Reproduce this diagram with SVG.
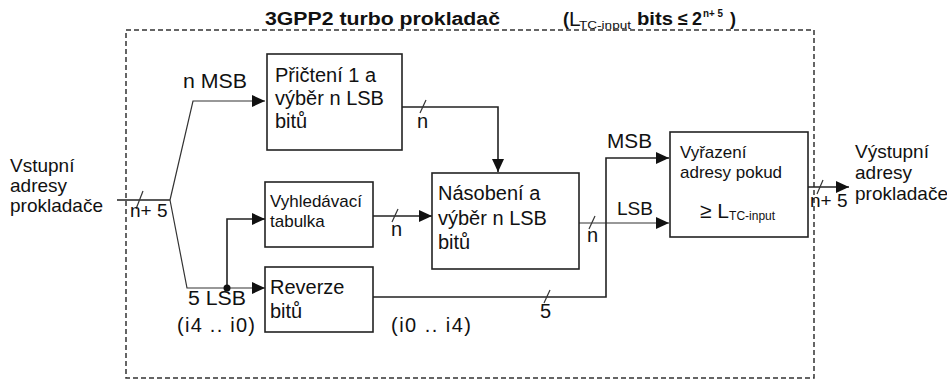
<svg xmlns="http://www.w3.org/2000/svg" width="947" height="383" viewBox="0 0 947 383">
<style>
  text { font-family: "Liberation Sans", Arial, sans-serif; fill: #111; }
  .box { fill: #fff; stroke: #222; stroke-width: 1.6; }
  .ln { fill: none; stroke: #222; stroke-width: 1.6; }
  .thin { fill: none; stroke: #333; stroke-width: 1.2; }
  .frame { fill: none; stroke: #333; stroke-width: 1.5; stroke-dasharray: 5 3; }
  .t20 { font-size: 20px; }
  .t19 { font-size: 19px; }
  .t17 { font-size: 17px; }
  .bold { font-weight: bold; font-size: 18px; }
</style>
<defs>
  <marker id="arr" markerWidth="14" markerHeight="12" refX="13" refY="6" orient="auto" markerUnits="userSpaceOnUse">
    <path d="M0,0 L13,6 L0,12 Z" fill="#111"/>
  </marker>
</defs>
<rect width="947" height="383" fill="#fff"/>

<g id="frame">
  <rect class="frame" x="126" y="30" width="688" height="348"/>
  <text class="bold" x="265" y="25" textLength="235" lengthAdjust="spacingAndGlyphs">3GPP2 turbo prokladač</text>
  <text class="bold" x="563" y="25">(</text>
  <text x="569" y="26" font-size="21">L</text>
  <text x="579" y="29" font-size="11" textLength="52" lengthAdjust="spacingAndGlyphs">TC-input</text>
  <text class="bold" x="637" y="25" textLength="36" lengthAdjust="spacingAndGlyphs">bits</text>
  <text class="bold" x="678" y="25">≤</text>
  <text class="bold" x="692" y="25">2</text>
  <text x="703" y="17" font-size="10" font-weight="bold" textLength="20" lengthAdjust="spacingAndGlyphs">n+ 5</text>
  <text class="bold" x="730" y="25">)</text>
</g>

<g id="connectors">
  <polyline class="ln" points="117,200 170,200"/>
  <line class="thin" x1="136" y1="209" x2="143" y2="191"/>
  <polyline class="thin" points="170,200 193,101 265,101" marker-end="url(#arr)"/>
  <polyline class="thin" points="170,200 187,288 265,288" marker-end="url(#arr)"/>
  <polyline class="ln" points="227,288 227,219 265,219" marker-end="url(#arr)"/>
  <circle cx="227" cy="288" r="3.5" fill="#111"/>
  <polyline class="ln" points="402,107 498,107 498,172" marker-end="url(#arr)"/>
  <line class="thin" x1="420" y1="113" x2="426" y2="100"/>
  <polyline class="ln" points="373,216 432,216" marker-end="url(#arr)"/>
  <line class="thin" x1="392" y1="222" x2="398" y2="209"/>
  <polyline class="thin" points="579,223 669,223" marker-end="url(#arr)"/>
  <line class="thin" x1="589" y1="229" x2="595" y2="216"/>
  <polyline class="ln" points="373,297 606,297 606,158 669,158" marker-end="url(#arr)"/>
  <line class="thin" x1="544" y1="303" x2="550" y2="290"/>
  <polyline class="ln" points="808,187 849,187" marker-end="url(#arr)"/>
  <line class="thin" x1="817" y1="194" x2="823" y2="180"/>
</g>

<g id="input-label">
  <text class="t19" x="10" y="172">Vstupní</text>
  <text class="t19" x="10" y="192">adresy</text>
  <text class="t19" x="10" y="212">prokladače</text>
  <text class="t19" x="130" y="217">n+ 5</text>
</g>

<g id="labels">
  <text class="t20" x="183" y="88" textLength="64" lengthAdjust="spacingAndGlyphs">n MSB</text>
  <text class="t20" x="188" y="305" textLength="58" lengthAdjust="spacingAndGlyphs">5 LSB</text>
  <text class="t20" x="177" y="332" textLength="78" lengthAdjust="spacing">(i4 .. i0)</text>
  <text class="t20" x="417" y="128">n</text>
  <text class="t20" x="391" y="236">n</text>
  <text class="t20" x="587" y="242">n</text>
  <text class="t19" x="617" y="215" textLength="36" lengthAdjust="spacingAndGlyphs">LSB</text>
  <text class="t20" x="607" y="148" textLength="45" lengthAdjust="spacingAndGlyphs">MSB</text>
  <text class="t20" x="540" y="318">5</text>
  <text class="t20" x="391" y="332" textLength="80" lengthAdjust="spacing">(i0 .. i4)</text>
  <text class="t19" x="810" y="207">n+ 5</text>
</g>

<g id="box-pricteni">
  <rect class="box" x="267" y="54" width="135" height="96"/>
  <text class="t20" x="275" y="82">Přičtení 1 a</text>
  <text class="t20" x="275" y="105">výběr n LSB</text>
  <text class="t20" x="275" y="128">bitů</text>
</g>

<g id="box-vyhledavaci">
  <rect class="box" x="265" y="182" width="108" height="65"/>
  <text class="t17" x="270" y="207">Vyhledávací</text>
  <text class="t17" x="270" y="227">tabulka</text>
</g>

<g id="box-reverze">
  <rect class="box" x="265" y="267" width="108" height="65"/>
  <text class="t20" x="270" y="294">Reverze</text>
  <text class="t20" x="270" y="318">bitů</text>
</g>

<g id="box-nasobeni">
  <rect class="box" x="432" y="173" width="147" height="96"/>
  <text class="t20" x="438" y="200">Násobení a</text>
  <text class="t20" x="438" y="225">výběr n LSB</text>
  <text class="t20" x="438" y="249">bitů</text>
</g>

<g id="box-vyrazeni">
  <rect class="box" x="670" y="132" width="138" height="105"/>
  <text class="t17" x="680" y="158">Vyřazení</text>
  <text class="t17" x="680" y="178">adresy pokud</text>
  <text x="700" y="218" font-size="21">≥ L<tspan font-size="12" dy="2">TC-input</tspan></text>
</g>

<g id="output-label">
  <text class="t19" x="855" y="158">Výstupní</text>
  <text class="t19" x="855" y="179">adresy</text>
  <text class="t19" x="855" y="200">prokladače</text>
</g>
</svg>
